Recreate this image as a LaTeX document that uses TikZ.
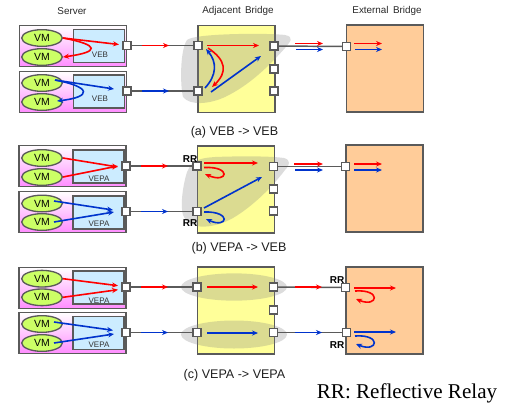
\documentclass[tikz,border=0pt]{standalone}
\usepackage{fontspec}
\setmainfont{Liberation Sans}
\newfontfamily\notefont{Liberation Serif}
\usetikzlibrary{arrows.meta,shapes.geometric}
\definecolor{boxline}{RGB}{90,90,90}
\definecolor{redflow}{RGB}{255,0,0}
\definecolor{blueflow}{RGB}{0,51,204}
\tikzset{
  server/.style={draw=boxline,line width=1.2pt,top color=white,bottom color={rgb,255:red,255;green,140;blue,255},minimum width=80pt,minimum height=31pt,inner sep=0pt},
  vswitch/.style={draw=boxline,line width=1.2pt,fill={rgb,255:red,204;green,236;blue,255},minimum width=38pt,minimum height=24.5pt,inner sep=0pt},
  vm/.style={ellipse,draw=boxline,line width=1pt,fill={rgb,255:red,204;green,255;blue,102},minimum width=30.5pt,minimum height=12.5pt,inner sep=0pt,font=\fontsize{7.8}{8}\selectfont},
  adjbridge/.style={draw=boxline,line width=1.2pt,fill={rgb,255:red,255;green,255;blue,153},minimum width=58pt,minimum height=65pt,inner sep=0pt},
  extbridge/.style={draw=boxline,line width=1.2pt,fill={rgb,255:red,255;green,204;blue,153},minimum width=58pt,minimum height=65pt,inner sep=0pt},
  port/.style={draw=boxline,line width=1.1pt,fill=white,minimum width=6pt,minimum height=6pt,inner sep=0pt},
  link/.style={draw=boxline,line width=1.1pt},
  redflowline/.style={redflow,line width=1.2pt,-{Stealth[length=4.5pt,width=3.8pt]}},
  blueflowline/.style={blueflow,line width=1.2pt,-{Stealth[length=4.5pt,width=3.8pt]}},
  blob/.style={fill={rgb,255:red,125;green,125;blue,125},fill opacity=0.27,draw=none},
  swlabel/.style={inner sep=0pt,font=\fontsize{6}{7}\selectfont,text={rgb,255:red,50;green,50;blue,50}},
  headlabel/.style={inner sep=0pt,font=\fontsize{7.4}{9}\selectfont,text={rgb,255:red,40;green,40;blue,40}},
  caption/.style={inner sep=0pt,font=\fontsize{9.4}{10}\selectfont,text={rgb,255:red,30;green,30;blue,30}},
  rrlabel/.style={inner sep=0pt,font=\fontsize{7.5}{9}\selectfont\bfseries},
}
\begin{document}
\begin{tikzpicture}[x=0.75pt,y=0.75pt,yscale=-1,xscale=1]
\useasboundingbox (0,0) rectangle (509,407);

% Text Node
\node (srvhead) [headlabel] at (72,11) {Server};
\node (adjhead) [headlabel] at (238,11) {Adjacent\, Bridge};
\node (exthead) [headlabel] at (387,11) {External\, Bridge};

%Row (a)
\node (srvA1) [server] at (73,46) {};
\node (srvA2) [server] at (73,92) {};
\node (swA1) [vswitch] at (99,46) {};
\node (swA2) [vswitch] at (99,91.5) {};
\node (vmA1) [vm] at (42,38) {VM};
\node (vmA2) [vm] at (42,57) {VM};
\node (vmA3) [vm] at (42,83) {VM};
\node (vmA4) [vm] at (42,102) {VM};
\node (swlabA1) [swlabel] at (100,55) {VEB};
\node (swlabA2) [swlabel] at (100,99) {VEB};
\node (brA) [adjbridge] at (236.5,69) {};
\node (extA) [extbridge] at (385,68.5) {};
\path[blob] (187,40) .. controls (195,33) and (270,33) .. (285,35) .. controls (295,37) and (290,42) .. (285,48) .. controls (270,65) and (250,85) .. (225,97) .. controls (210,104) and (190,106) .. (183,97) .. controls (180,85) and (180,50) .. (187,40) -- cycle;
\node (ptsA1) [port] at (127,45.5) {};
\node (ptsA2) [port] at (127,91) {};
\node (ptlA1) [port] at (198,45.5) {};
\node (ptlA2) [port] at (198,91) {};
\node (ptrA1) [port] at (274,46) {};
\node (ptrA2) [port] at (274,69) {};
\node (ptrA3) [port] at (274,91) {};
\node (pteA1) [port] at (346.5,46.5) {};
\draw [link] (ptsA1) -- (ptlA1);
\draw [link] (ptsA2) -- (ptlA2);
\draw [link] (ptrA1) -- (pteA1);
\coordinate (endA1) at (119,44.5);
\coordinate (startA3) at (55,80);
\coordinate (endA3) at (114,89);
\draw [redflowline] (vmA1.east) -- (endA1);
\draw [redflowline] (vmA1.east) .. controls (100,45) and (100,52) .. (vmA2.east);
\draw [blueflowline] (startA3) -- (endA3);
\draw [blueflowline] (startA3) .. controls (92,87) and (92,97) .. (57,101);
\coordinate (lkA1a) at (142,45.5);
\coordinate (lkA1b) at (169,45.5);
\coordinate (lkA2a) at (142,91);
\coordinate (lkA2b) at (169,91);
\draw [redflowline] (lkA1a) -- (lkA1b);
\draw [blueflowline] (lkA2a) -- (lkA2b);
\coordinate (inA1a) at (207,45.5);
\coordinate (inA1b) at (259,45.5);
\coordinate (inA2a) at (211,92);
\coordinate (inA2b) at (261,56);
\draw [redflowline] (inA1a) -- (inA1b);
\draw [blueflowline] (inA2a) -- (inA2b);
\draw [redflowline] (208,48) .. controls (226,60) and (228,72) .. (212,87);
\draw [blueflowline] (205,88) .. controls (217,75) and (217,62) .. (206,49);
\coordinate (upA1a) at (295,43.5);
\coordinate (upA1b) at (323,43.5);
\coordinate (upA2a) at (296,49.5);
\coordinate (upA2b) at (323,49.5);
\draw [redflowline] (upA1a) -- (upA1b);
\draw [blueflowline] (upA2a) -- (upA2b);
\coordinate (exA1a) at (354,43.5);
\coordinate (exA1b) at (382,43.5);
\coordinate (exA2a) at (355,49.5);
\coordinate (exA2b) at (382,49.5);
\draw [redflowline] (exA1a) -- (exA1b);
\draw [blueflowline] (exA2a) -- (exA2b);
\node (capA) [caption] at (234.5,132) {(a) VEB -> VEB};

%Row (b)
\node (srvB1) [server] at (72.5,166) {};
\node (srvB2) [server] at (72.5,212) {};
\node (swB1) [vswitch] at (98.5,166.5) {};
\node (swB2) [vswitch] at (98.5,212.5) {};
\node (vmB1) [vm] at (42,158) {VM};
\node (vmB2) [vm] at (42,177) {VM};
\node (vmB3) [vm] at (42,203.5) {VM};
\node (vmB4) [vm] at (42,222) {VM};
\node (swlabB1) [swlabel] at (99,179) {VEPA};
\node (swlabB2) [swlabel] at (99,224) {VEPA};
\node (brB) [adjbridge] at (236,189.5) {};
\node (extB) [extbridge] at (384.5,188.5) {};
\path[blob] (187,172) .. controls (192,160) and (200,158) .. (215,157) .. controls (240,156) and (270,156) .. (284,158) .. controls (291,160) and (290,165) .. (285,170) .. controls (270,190) and (250,208) .. (233,218) .. controls (215,228) and (190,232) .. (183,215) .. controls (180,205) and (183,185) .. (187,172) -- cycle;
\node (ptsB1) [port] at (126,166) {};
\node (ptsB2) [port] at (126,211.5) {};
\node (ptlB1) [port] at (197,166) {};
\node (ptlB2) [port] at (197,211.5) {};
\node (ptrB1) [port] at (273.3,166.7) {};
\node (ptrB2) [port] at (273.3,189) {};
\node (ptrB3) [port] at (273.3,211) {};
\node (pteB1) [port] at (345.7,166.7) {};
\draw [link] (ptsB1) -- (ptlB1);
\draw [link] (ptsB2) -- (ptlB2);
\draw [link] (ptrB1) -- (pteB1);
\coordinate (endB1) at (118,167);
\coordinate (endB2) at (118,166);
\coordinate (startB3) at (54,201);
\coordinate (endB3) at (113,210);
\coordinate (startB4) at (54,222);
\coordinate (endB4) at (114,212);
\draw [redflowline] (vmB1.east) -- (endB1);
\draw [redflowline] (vmB2.east) -- (endB2);
\draw [blueflowline] (startB3) -- (endB3);
\draw [blueflowline] (startB4) -- (endB4);
\coordinate (lkB1a) at (141,166);
\coordinate (lkB1b) at (168,166);
\coordinate (lkB2a) at (141,211.5);
\coordinate (lkB2b) at (168,211.5);
\draw [redflowline] (lkB1a) -- (lkB1b);
\draw [blueflowline] (lkB2a) -- (lkB2b);
\coordinate (inB1a) at (204,163);
\coordinate (inB1b) at (258,163);
\coordinate (inB2a) at (204,208);
\coordinate (inB2b) at (262,177);
\draw [redflowline] (inB1a) -- (inB1b);
\draw [blueflowline] (inB2a) -- (inB2b);
\draw [redflowline] (204,167.5) .. controls (232,166) and (228,184) .. (205,174);
\draw [blueflowline] (204,212) .. controls (232,211) and (228,229) .. (206,219);
\coordinate (upB1a) at (294,164);
\coordinate (upB1b) at (323,164);
\coordinate (upB2a) at (295,170);
\coordinate (upB2b) at (323,170);
\draw [redflowline] (upB1a) -- (upB1b);
\draw [blueflowline] (upB2a) -- (upB2b);
\coordinate (exB1a) at (354,164);
\coordinate (exB1b) at (382,164);
\coordinate (exB2a) at (354,170);
\coordinate (exB2b) at (382,170);
\draw [redflowline] (exB1a) -- (exB1b);
\draw [blueflowline] (exB2a) -- (exB2b);
\node (rrB1) [rrlabel] at (190,159) {RR};
\node (rrB2) [rrlabel] at (190,223.5) {RR};
\node (capB) [caption] at (239,248) {(b) VEPA -> VEB};

%Row (c)
\node (srvC1) [server] at (72.5,288) {};
\node (srvC2) [server] at (72.5,333) {};
\node (swC1) [vswitch] at (98.5,287.5) {};
\node (swC2) [vswitch] at (98.5,333) {};
\node (vmC1) [vm] at (42,278.7) {VM};
\node (vmC2) [vm] at (42,297.3) {VM};
\node (vmC3) [vm] at (42,324) {VM};
\node (vmC4) [vm] at (42,343) {VM};
\node (swlabC1) [swlabel] at (99,300.7) {VEPA};
\node (swlabC2) [swlabel] at (99,345) {VEPA};
\node (brC) [adjbridge] at (236,310.5) {};
\node (extC) [extbridge] at (384.5,310.5) {};
\node (blobC1) [blob,ellipse,minimum width=79.5pt,minimum height=20.5pt] at (234,287) {};
\node (blobC2) [blob,ellipse,minimum width=79.5pt,minimum height=21pt] at (234,334.5) {};
\node (ptsC1) [port] at (126,287) {};
\node (ptsC2) [port] at (126,332.5) {};
\node (ptlC1) [port] at (197,287) {};
\node (ptlC2) [port] at (197,332.5) {};
\node (ptrC1) [port] at (273.3,287) {};
\node (ptrC2) [port] at (273.3,310) {};
\node (ptrC3) [port] at (273.3,332.5) {};
\node (pteC1) [port] at (345.7,287.5) {};
\node (pteC2) [port] at (346.3,332.5) {};
\draw [link] (ptsC1) -- (ptlC1);
\draw [link] (ptsC2) -- (ptlC2);
\draw [link] (ptrC1) -- (pteC1);
\draw [link] (ptrC3) -- (pteC2);
\coordinate (endC1) at (118,285.7);
\coordinate (endC2) at (118,289.7);
\coordinate (startC3) at (54,322);
\coordinate (endC3) at (113,330.3);
\coordinate (startC4) at (54,343);
\coordinate (endC4) at (114,334);
\draw [redflowline] (vmC1.east) -- (endC1);
\draw [redflowline] (vmC2.east) -- (endC2);
\draw [blueflowline] (startC3) -- (endC3);
\draw [blueflowline] (startC4) -- (endC4);
\coordinate (lkC1a) at (141,287);
\coordinate (lkC1b) at (168,287);
\coordinate (lkC2a) at (141,332.5);
\coordinate (lkC2b) at (168,332.5);
\draw [redflowline] (lkC1a) -- (lkC1b);
\draw [blueflowline] (lkC2a) -- (lkC2b);
\coordinate (inC1a) at (207,287);
\coordinate (inC1b) at (258,287);
\coordinate (inC2a) at (207,333);
\coordinate (inC2b) at (258,333);
\draw [redflowline] (inC1a) -- (inC1b);
\draw [blueflowline] (inC2a) -- (inC2b);
\coordinate (upC1a) at (295,287);
\coordinate (upC1b) at (322,287);
\coordinate (upC2a) at (295,332.5);
\coordinate (upC2b) at (322,332.5);
\draw [redflowline] (upC1a) -- (upC1b);
\draw [blueflowline] (upC2a) -- (upC2b);
\coordinate (exC1a) at (354,288);
\coordinate (exC1b) at (396,288);
\coordinate (exC2a) at (354,332);
\coordinate (exC2b) at (396,332);
\draw [redflowline] (exC1a) -- (exC1b);
\draw [blueflowline] (exC2a) -- (exC2b);
\draw [redflowline] (355,291) .. controls (382,289) and (378,308) .. (356,299);
\draw [blueflowline] (355,336) .. controls (382,334) and (378,353) .. (356,344);
\node (rrC1) [rrlabel] at (337,280) {RR};
\node (rrC2) [rrlabel] at (337,345) {RR};
\node (capC) [caption] at (234.5,375) {(c) VEPA -> VEPA};

% Text Node
\node (rrnote) [inner sep=0pt,font=\notefont\fontsize{15.8}{18}\selectfont] at (407,393) {RR: Reflective Relay};

\end{tikzpicture}
\end{document}
